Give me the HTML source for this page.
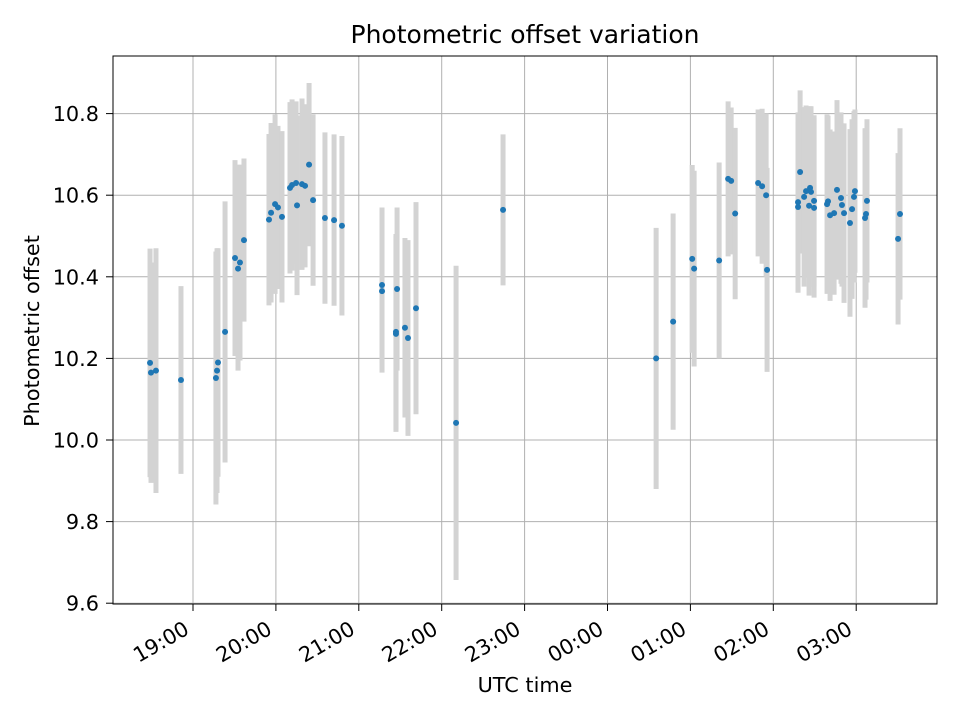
<!DOCTYPE html>
<html><head><meta charset="utf-8"><style>body{margin:0;background:#fff}svg{display:block;font-family:"DejaVu Sans","Liberation Sans",sans-serif}</style></head>
<body>
<svg id="chart" width="960" height="720">
<rect x="0" y="0" width="960" height="720" fill="#fff"/>
<text x="525" y="43" font-size="25" text-anchor="middle">Photometric offset variation</text>
<text x="525" y="692" font-size="20.8" text-anchor="middle">UTC time</text>
<text transform="translate(39,331) rotate(-90)" font-size="20.8" text-anchor="middle">Photometric offset</text>
<g id="grid"></g><g id="bars"></g><g id="pts"></g><g id="axes"></g>
<rect x="113" y="56" width="824" height="548" fill="none" stroke="#000" stroke-width="1"/>
</svg>
<script>
// minutes after 18:00 UTC
const times=[28.9,29.6,33.2,51.3,76.6,77.4,78.1,83.2,90.4,92.6,94.0,96.9,115.0,116.5,119.4,121.5,124.4,130.2,131.7,134.6,135.3,138.9,141.1,144.0,146.9,155.5,162.1,167.8,196.8,196.8,207.7,206.9,206.9,213.4,215.6,221.4,250.4,284.4,395.2,407.5,421.3,422.7,440.8,447.3,449.5,452.4,469.0,471.9,474.8,475.5,499.4,497.9,497.9,502.3,503.7,506.6,507.3,505.9,509.5,509.5,519.6,518.9,521.1,524.0,526.1,529.0,529.7,531.2,535.5,537.0,538.4,539.1,547.1,546.4,547.8,570.3,571.7];
const offsets=[10.189,10.165,10.17,10.147,10.152,10.17,10.19,10.265,10.446,10.42,10.435,10.49,10.54,10.557,10.578,10.57,10.547,10.618,10.625,10.63,10.575,10.627,10.623,10.675,10.588,10.544,10.539,10.525,10.38,10.365,10.37,10.265,10.26,10.275,10.25,10.323,10.042,10.564,10.2,10.29,10.444,10.42,10.44,10.64,10.635,10.555,10.63,10.622,10.6,10.417,10.657,10.583,10.571,10.596,10.61,10.618,10.608,10.574,10.586,10.569,10.585,10.578,10.551,10.556,10.613,10.593,10.576,10.556,10.532,10.566,10.596,10.61,10.554,10.544,10.586,10.493,10.554];
const errors=[0.28,0.27,0.3,0.23,0.31,0.3,0.28,0.32,0.24,0.25,0.24,0.2,0.21,0.22,0.22,0.2,0.21,0.21,0.21,0.2,0.22,0.21,0.2,0.2,0.21,0.21,0.21,0.22,0.19,0.2,0.2,0.24,0.24,0.22,0.24,0.26,0.385,0.185,0.32,0.265,0.23,0.24,0.24,0.19,0.18,0.21,0.18,0.19,0.2,0.25,0.2,0.22,0.21,0.22,0.21,0.2,0.21,0.22,0.21,0.22,0.21,0.22,0.21,0.2,0.22,0.21,0.2,0.22,0.23,0.22,0.21,0.2,0.21,0.22,0.2,0.21,0.21];
const xTicks=[60,120,180,240,300,360,420,480,540];
const xTickLabels=["19:00","20:00","21:00","22:00","23:00","00:00","01:00","02:00","03:00"];
const yTicks=[9.6,9.8,10.0,10.2,10.4,10.6,10.8];
const yTickLabels=["9.6","9.8","10.0","10.2","10.4","10.6","10.8"];

const NS="http://www.w3.org/2000/svg";
const X=m=>193+(m-60)/60*82.9;
const Y=v=>440-(v-10)*408;
function mk(tag,attrs,parent,txt){const e=document.createElementNS(NS,tag);for(const k in attrs)e.setAttribute(k,attrs[k]);if(txt!==undefined)e.textContent=txt;parent.appendChild(e);return e;}
const grid=document.getElementById('grid'),axes=document.getElementById('axes'),bars=document.getElementById('bars'),pts=document.getElementById('pts');
xTicks.forEach((t,i)=>{const x=X(t);
 const g=mk('line',{x1:x,x2:x,y1:56,y2:604,stroke:'#b0b0b0','stroke-width':1},grid);
 
 
 mk('line',{x1:x,x2:x,y1:604,y2:611,stroke:'#000'},axes);
 const l=mk('text',{transform:`translate(${x-2.5},${633}) rotate(-30)`,'text-anchor':'end','font-size':20.8},axes,xTickLabels[i]);
 
 
});
yTicks.forEach((t,i)=>{const y=Y(t);
 const g=mk('line',{x1:113,x2:937,y1:y,y2:y,stroke:'#b0b0b0','stroke-width':1},grid);
 
 
 mk('line',{x1:106,x2:113,y1:y,y2:y,stroke:'#000'},axes);
 const l=mk('text',{x:99,y:y+7.5,'text-anchor':'end','font-size':20.8},axes,yTickLabels[i]);
 
 
});
times.forEach((t,i)=>{const x=X(t);
 const b=mk('line',{x1:x,x2:x,y1:Y(offsets[i]+errors[i]),y2:Y(offsets[i]-errors[i]),stroke:'#d3d3d3','stroke-width':5},bars);
 
 
 const c=mk('circle',{cx:x,cy:Y(offsets[i]),r:3,fill:'#1f77b4'},pts);
 
 
});
</script>
</body></html>
